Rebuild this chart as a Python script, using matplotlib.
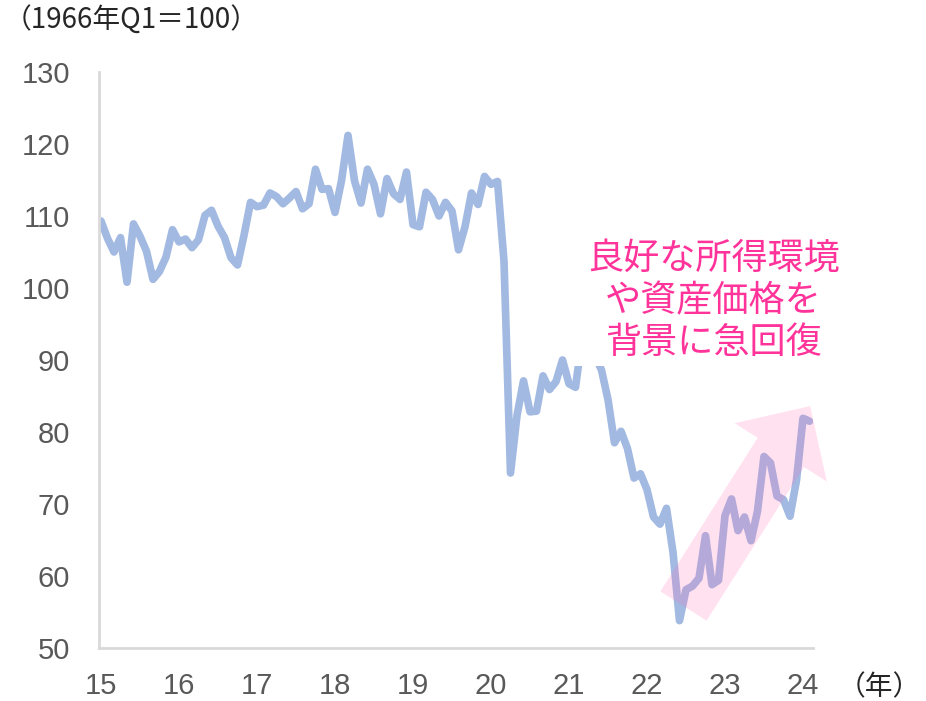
import numpy as np
import matplotlib
matplotlib.use('Agg')
import matplotlib.pyplot as plt
from matplotlib.patches import Polygon, Rectangle

# Colors
LINE_BLUE = '#A2B9E2'
AXIS_GRAY = '#D9D9D9'
LABEL_GRAY = '#595959'
PINK_TEXT = '#FF3399'
PINK_ARROW = '#FF69B4'

JP_FONT = ['Noto Sans CJK JP', 'DejaVu Sans']
NUM_FONT = ['Liberation Sans', 'Noto Sans CJK JP']

# Monthly index values, Jan 2015 - Feb 2024
idx_2015 = [109.3, 106.9, 105.0, 107.0, 100.8, 108.9, 107.2, 105.1, 101.2, 102.3, 104.3, 108.1]
idx_2016 = [106.4, 106.8, 105.6, 106.7, 110.1, 110.8, 108.6, 107.0, 104.2, 103.2, 107.3, 111.9]
idx_2017 = [111.3, 111.5, 113.2, 112.7, 111.7, 112.5, 113.4, 111.0, 111.7, 116.5, 113.7, 113.8]
idx_2018 = [110.5, 114.9, 121.2, 114.9, 111.8, 116.5, 114.4, 110.3, 115.2, 113.1, 112.3, 116.1]
idx_2019 = [108.8, 108.5, 113.3, 112.3, 110.0, 111.9, 110.7, 105.3, 108.5, 113.2, 111.6, 115.5]
idx_2020 = [114.4, 114.8, 103.7, 74.3, 82.3, 87.1, 82.8, 82.9, 87.8, 85.9, 87.0, 90.0]
idx_2021 = [86.7, 86.2, 93.0, 97.2, 90.6, 88.6, 84.5, 78.5, 80.1, 77.7, 73.6, 74.2]
idx_2022 = [72.0, 68.2, 67.2, 69.4, 63.3, 53.8, 58.1, 58.6, 59.7, 65.6, 58.8, 59.4]
idx_2023 = [68.4, 70.7, 66.3, 68.2, 64.9, 69.0, 76.6, 75.7, 71.1, 70.6, 68.3, 73.3]
idx_2024 = [81.9, 81.5]

start_year = 2015
years = list(range(2015, 2025))
year_labels = ['15', '16', '17', '18', '19', '20', '21', '22', '23', '24']
y_ticks = [50, 60, 70, 80, 90, 100, 110, 120, 130]

unit_label = '（1966年Q1＝100）'
year_unit = '（年）'
note_text = '良好な所得環境\nや資産価格を\n背景に急回復'


def arrow_polygon(ax, start, end, shaft_w, head_w, head_len):
    """Build a block arrow in pixel space so it is not skewed by the axis scales"""
    p0 = ax.transData.transform(start)
    p1 = ax.transData.transform(end)
    d = (p1 - p0) / np.linalg.norm(p1 - p0)
    n = np.array([-d[1], d[0]])
    h = p1 - d * head_len
    pts = [p0 + n * shaft_w / 2, h + n * shaft_w / 2, h + n * head_w / 2, p1,
           h - n * head_w / 2, h - n * shaft_w / 2, p0 - n * shaft_w / 2]
    return ax.transData.inverted().transform(np.array(pts))


values = idx_2015 + idx_2016 + idx_2017 + idx_2018 + idx_2019 + idx_2020 + idx_2021 + idx_2022 + idx_2023 + idx_2024
x = start_year + np.arange(len(values)) / 12

fig = plt.figure(figsize=(9.26, 7.01), dpi=100)
ax = fig.add_axes([99 / 926, 53 / 701, 714 / 926, 576 / 701])

ax.plot(x, values, color=LINE_BLUE, lw=5.5, solid_joinstyle='round', solid_capstyle='round', zorder=2)

ax.set_xlim(2015 - 2 / 78, 2015 + 712 / 78)
ax.set_ylim(50, 130)
ax.set_xticks(years)
ax.set_xticklabels(year_labels)
ax.set_yticks(y_ticks)
ax.tick_params(length=0, labelsize=21, labelcolor=LABEL_GRAY)
ax.tick_params(axis='y', pad=21)
ax.tick_params(axis='x', pad=17)
for lab in ax.get_xticklabels() + ax.get_yticklabels():
    lab.set_family(NUM_FONT)

for side in ['top', 'right']:
    ax.spines[side].set_visible(False)
for side in ['left', 'bottom']:
    ax.spines[side].set_color(AXIS_GRAY)
    ax.spines[side].set_linewidth(2)

# white text box that hides part of the line
ax.add_patch(Rectangle((2021.04, 89.2), 3.2, 18.3, facecolor='white', edgecolor='none', zorder=3, clip_on=False))
ax.text(2022.853, 98.2, note_text, color=PINK_TEXT, fontsize=26, family=JP_FONT,
        ha='center', va='center', multialignment='center', linespacing=1.23, zorder=4)

# translucent arrow over the recovery
verts = arrow_polygon(ax, (2022.468, 55.83), (2024.091, 83.60), 54.7, 109, 54.8)
ax.add_patch(Polygon(verts, closed=True, facecolor=PINK_ARROW, edgecolor='none', alpha=0.2, zorder=5, clip_on=False))

fig.text(4 / 926, 1 - 20 / 701, unit_label, fontsize=20, color='#262626', family=JP_FONT, ha='left', va='center')
fig.text(838 / 926, 1 - 687 / 701, year_unit, fontsize=20, color='#262626', family=JP_FONT, ha='left', va='center')

fig.savefig('out.png', dpi=100)
